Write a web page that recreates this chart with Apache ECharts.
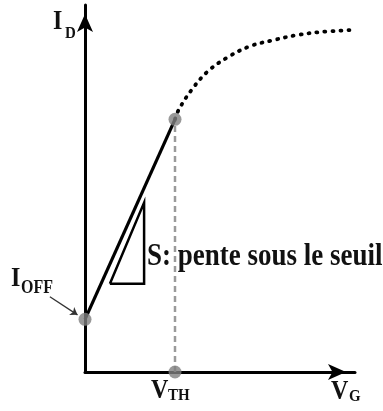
<!DOCTYPE html>
<html lang="fr">
<head>
<meta charset="UTF-8">
<title>Pente sous le seuil</title>
<style>
  html, body { margin: 0; padding: 0; background: #fff; }
  #chart { width: 383px; height: 411px; }
</style>
<script src="https://cdn.jsdelivr.net/npm/echarts@6/dist/echarts.min.js"></script>
</head>
<body>
<div id="chart"></div>
<script>
// axes : VG en x, ID en y (unites arbitraires)
var vth = 3;
var ioff = 1.75;
var idAtVth = 8.4;

// regime sous le seuil (droite)
var subThreshold = [[0, ioff], [vth, idAtVth]];
// au-dessus du seuil (pointilles)
var aboveThreshold = [
    [3.0, 8.4], [3.13, 8.73], [3.57, 9.4], [4.1, 10.0], [4.77, 10.47],
    [5.5, 10.83], [6.27, 11.03], [7.07, 11.2], [7.83, 11.3], [8.93, 11.37]
];
// triangle de pente
var slopeTriangle = [[0.83, 2.93], [1.97, 5.63], [1.97, 2.93], [0.83, 2.93]];
// points gris
var keyPoints = [[0, ioff], [vth, idAtVth], [vth, 0]];
// trait vertical en tirets
var vthGuide = [[vth, 0], [vth, idAtVth]];
// petite fleche vers IOFF
var ioffPointer = [[-1.17, 2.5], [-0.25, 1.9]];

var xMax = 9;
var yMax = 12.2;

var chart = echarts.init(document.getElementById('chart'));

function txt(s, x, y, size) {
    return {
        type: 'text', x: x, y: y, scaleY: 1.15, z: 10,
        style: {
            text: s, fill: '#111',
            font: 'bold ' + size + 'px "Liberation Serif"',
            align: 'left', verticalAlign: 'middle'
        }
    };
}

var option = {
    animation: false,
    backgroundColor: '#fff',
    grid: { left: 85, right: 28, top: 5, bottom: 39 },
    xAxis: {
        type: 'value', min: 0, max: xMax,
        axisLine: {
            onZero: false,
            lineStyle: { color: '#000', width: 3 },
            symbol: ['none', 'arrow'], symbolSize: [12, 18], symbolOffset: [0, -9]
        },
        axisTick: { show: false }, axisLabel: { show: false }, splitLine: { show: false }
    },
    yAxis: {
        type: 'value', min: 0, max: yMax,
        axisLine: {
            onZero: false,
            lineStyle: { color: '#000', width: 3 },
            symbol: ['none', 'arrow'], symbolSize: [12, 18], symbolOffset: [0, -9]
        },
        axisTick: { show: false }, axisLabel: { show: false }, splitLine: { show: false }
    },
    graphic: [
        txt('I', 53, 22, 24), txt('D', 65, 34, 15),
        txt('I', 11, 279, 24), txt('OFF', 21, 288, 16),
        txt('V', 151, 391, 24), txt('TH', 168, 396, 15),
        txt('V', 331, 392, 24), txt('G', 349, 397, 15),
        txt('S: pente sous le seuil', 147, 257, 27)
    ],
    series: [
        {
            type: 'line', data: vthGuide, symbol: 'none', z: 2,
            lineStyle: { color: '#9a9a9a', width: 2.5, type: [6, 4] }
        },
        {
            type: 'line', data: subThreshold, symbol: 'none', z: 3,
            lineStyle: { color: '#000', width: 3.2 }
        },
        {
            type: 'line', data: aboveThreshold, symbol: 'none', smooth: 0.4, z: 3, clip: false,
            lineStyle: { color: '#000', width: 3.8, type: [1, 7], cap: 'round' }
        },
        {
            type: 'line', data: slopeTriangle, symbol: 'none', z: 3,
            lineStyle: { color: '#000', width: 2.5, join: 'miter' }
        },
        {
            type: 'lines', coordinateSystem: 'cartesian2d', clip: false, z: 4,
            symbol: ['none', 'arrow'], symbolSize: 7,
            lineStyle: { color: '#333', width: 1.3, opacity: 1 },
            data: [{ coords: ioffPointer }]
        },
        {
            type: 'scatter', data: keyPoints, symbolSize: 13, z: 5,
            itemStyle: { color: '#808080' }
        }
    ]
};
chart.setOption(option);
</script>
</body>
</html>
